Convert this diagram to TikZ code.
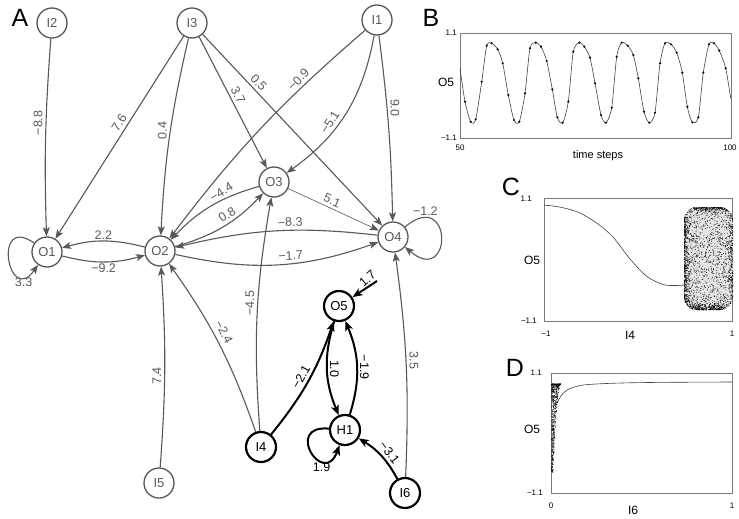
\documentclass[tikz,border=0pt]{standalone}
\usepackage{fontspec}
\setmainfont{Liberation Sans}
\usepackage{tikz}
\usetikzlibrary{arrows.meta, positioning, calc}

\definecolor{netgray}{RGB}{88,88,88}
\definecolor{boxgray}{RGB}{120,120,120}

\begin{document}
\begin{tikzpicture}[x=1pt, y=-1pt]
    % Styles
    \tikzstyle{neuron} = [circle, draw=netgray, line width=1.3pt, minimum size=30pt, inner sep=0pt, text=netgray, font=\fontsize{13}{13}\selectfont]
    \tikzstyle{active} = [neuron, draw=black, line width=2.2pt, text=black]
    \tikzstyle{link} = [draw=netgray, line width=1.1pt, -{Stealth[length=9pt, width=7pt, inset=2pt]}]
    \tikzstyle{strong} = [draw=black, line width=2pt, -{Stealth[length=10pt, width=8pt, inset=2.5pt]}]
    \tikzstyle{wlabel} = [text=netgray, font=\fontsize{12.5}{12.5}\selectfont, inner sep=3pt]
    \tikzstyle{blabel} = [wlabel, text=black]
    \tikzstyle{letter} = [font=\fontsize{25}{25}\selectfont]
    \tikzstyle{frame} = [draw=boxgray, line width=0.8pt]
    \tikzstyle{trace} = [black!75, line width=0.6pt]
    \tikzstyle{ticklbl} = [font=\fontsize{8}{8}\selectfont, inner sep=1pt]
    \tikzstyle{axislbl} = [font=\fontsize{12}{12}\selectfont]

    \useasboundingbox (0,0) rectangle (739,519);

    % Panel A: network
    \node[letter] (labA) at (20,18) {A};

    % Inputs
    \node[neuron] (i2) at (52,23) {I2};
    \node[neuron] (i3) at (192,23) {I3};
    \node[neuron] (i1) at (377,20) {I1};
    \node[neuron] (i5) at (159,483) {I5};
    \node[active] (i4) at (261,447) {I4};
    \node[active] (i6) at (405,493) {I6};

    % Outputs
    \node[neuron] (o1) at (47,252) {O1};
    \node[neuron] (o2) at (160,251) {O2};
    \node[neuron] (o3) at (274,182) {O3};
    \node[neuron] (o4) at (393,237) {O4};
    \node[active] (o5) at (339,306) {O5};

    % Hidden
    \node[active] (h1) at (345,430) {H1};
    \coordinate (bias) at (377,281);

    % Gray connections
    \draw[link] (i2) to[bend right=3] node[wlabel, pos=0.42, rotate=90, anchor=south] {−8.8} (o1);
    \draw[link] (i3) -- node[wlabel, pos=0.45, rotate=57.7, anchor=south] {7.6} (o1);
    \draw[link] (i3) to[bend right=5] node[wlabel, pos=0.47, rotate=90, anchor=south] {0.4} (o2);
    \draw[link] (i3) -- node[wlabel, pos=0.47, rotate=-62.7, anchor=south] {3.7} (o3);
    \draw[link] (i3) -- node[wlabel, pos=0.28, rotate=-46.6, anchor=south] {0.5} (o4);
    \draw[link] (i1) to[bend right=6] node[wlabel, pos=0.27, rotate=46.8, anchor=south] {−0.9} (o2);
    \draw[link] (i1) to[bend left=22] node[wlabel, pos=0.6, rotate=57.5, anchor=south] {−5.1} (o3);
    \draw[link] (i1) to[bend left=3] node[wlabel, pos=0.38, rotate=-90, anchor=south] {9.0} (o4);
    \draw[link] (o3) to[bend right=15] node[wlabel, pos=0.33, rotate=31.8, anchor=south] {−4.4} (o2);
    \draw[link] (o2) to[bend right=15] node[wlabel, pos=0.6, rotate=31.8, anchor=south] {0.8} (o3);
    \draw[link] (o4) to[bend right=10] node[wlabel, pos=0.42, rotate=3.4, anchor=south] {−8.3} (o2);
    \draw[link] (o2) to[bend right=16] node[wlabel, pos=0.57, rotate=3.4, anchor=south] {−1.7} (o4);
    \draw[link, line width=0.6pt] (o3) -- node[wlabel, pos=0.45, rotate=-24.8, anchor=south] {5.1} (o4);
    \draw[link] (o4) to[out=40, in=-40, looseness=8] node[wlabel, pos=0.17, above, inner sep=1pt] {−1.2} (o4);
    \draw[link] (o1) to[out=145, in=-125, looseness=6] node[wlabel, pos=0.82, below, inner sep=1pt] {3.3} (o1);
    \draw[link] (o2) to[bend right=15] node[wlabel, pos=0.5, anchor=south, inner sep=1.5pt] {2.2} (o1);
    \draw[link] (o1) to[bend right=15] node[wlabel, pos=0.5, anchor=north, inner sep=1.5pt] {−9.2} (o2);
    \draw[link] (i5) to[bend right=4] node[wlabel, pos=0.45, rotate=90, anchor=south] {7.4} (o2);
    \draw[link] (i4) to[bend right=8] node[wlabel, pos=0.55, rotate=-62.7, anchor=south, inner sep=5pt] {−2.4} (o2);
    \draw[link] (i4) to[bend left=7] node[wlabel, pos=0.55, rotate=90, anchor=south] {−4.5} (o3);
    \draw[link] (i6) to[bend right=5] node[wlabel, pos=0.52, rotate=-90, anchor=south] {3.5} (o4);

    % Black connections
    \draw[strong] (i4) to[bend right=10] node[blabel, pos=0.5, rotate=61, anchor=south] {−2.1} (o5);
    \draw[strong] (o5) to[bend right=20] node[blabel, pos=0.5, rotate=-90, anchor=south, inner sep=2pt] {1.0} (h1);
    \draw[strong] (h1) to[bend right=20] node[blabel, pos=0.5, rotate=-90, anchor=south, inner sep=2pt] {−1.9} (o5);
    \draw[strong] (h1) to[out=175, in=-110, looseness=6] node[blabel, pos=0.7, below, inner sep=1.5pt] {1.9} (h1);
    \draw[strong] (i6) to[bend right=15] node[blabel, pos=0.45, rotate=-52, anchor=south] {−3.1} (h1);
    \draw[strong] (bias) -- node[blabel, pos=0.2, rotate=40, anchor=south, inner sep=2pt] {1.7} (o5);

    % Panel B: time series
    \node[letter] (labB) at (431,18) {B};
    \draw[frame] (460,33) rectangle (731,138);
    \draw[trace] plot[smooth, tension=0.45] coordinates {(460,68.3) (465,101.7) (470.7,121.7) (475.7,119.3)
        (481.7,81.7) (486.7,45.7) (491.7,43.3) (497.7,49.3) (502.7,63.3) (508.3,95) (514,120) (519.3,121.7)
        (525,93.3) (530,48.3) (535.7,42.7) (541,46.7) (546.7,61) (552.3,89.3) (557.3,117.3) (562.7,122.7)
        (568.3,101.7) (573.3,51.7) (579.3,42.7) (584.3,46.7) (590,57.7) (595,83.3) (601,115) (606,122.7)
        (611.7,107.7) (616.7,56.7) (621.7,42.7) (627.7,45.7) (633.3,55) (638.3,78.3) (644,111.7) (649.3,122.7)
        (655,112.7) (660,63.3) (665,43.3) (671,44.3) (676.7,52.7) (682.3,72.7) (687.3,106.7) (692.3,122.3)
        (698.3,117.3) (703.3,72.7) (709,44.3) (714,43.3) (719.3,50.7) (725.7,68.3) (730.7,98.3)};
    \foreach \ptx/\pty in {465/101.7, 470.7/121.7, 475.7/119.3, 481.7/81.7, 486.7/45.7, 491.7/43.3,
        497.7/49.3, 502.7/63.3, 508.3/95, 514/120, 519.3/121.7, 525/93.3, 530/48.3, 535.7/42.7,
        541/46.7, 546.7/61, 552.3/89.3, 557.3/117.3, 562.7/122.7, 568.3/101.7, 573.3/51.7, 579.3/42.7,
        584.3/46.7, 590/57.7, 595/83.3, 601/115, 606/122.7, 611.7/107.7, 616.7/56.7, 621.7/42.7,
        627.7/45.7, 633.3/55, 638.3/78.3, 644/111.7, 649.3/122.7, 655/112.7, 660/63.3, 665/43.3,
        671/44.3, 676.7/52.7, 682.3/72.7, 687.3/106.7, 692.3/122.3, 698.3/117.3, 703.3/72.7,
        709/44.3, 714/43.3, 719.3/50.7, 725.7/68.3}
        \fill (\ptx,\pty) circle (1.2pt);
    \node[ticklbl, anchor=east] (b_top) at (458,33) {1.1};
    \node[ticklbl, anchor=east] (b_bot) at (458,138) {−1.1};
    \node[axislbl] (b_y) at (446,82) {O5};
    \node[ticklbl] (b_left) at (460,148) {50};
    \node[ticklbl] (b_right) at (730,148) {100};
    \node[font=\fontsize{11}{11}\selectfont] (b_x) at (598,156) {time steps};

    % Panel C: sweep of I4
    \node[letter] (labC) at (511,187) {C};
    \draw[frame] (544,198) rectangle (732,321);
    \draw[trace] plot[smooth, tension=0.5] coordinates {(544,205) (562,207.5) (580,213) (598,224)
        (613,237) (630,259) (647,276.5) (663,284.5) (675,285.5) (686,285)};
    \begin{scope}
        \clip[rounded corners=13pt] (684,207) rectangle (733,310);
        \fill[black!10] (684,207) rectangle (733,310);
        \pgfmathsetseed{17}
        \foreach \k in {1,...,1300} {
            \pgfmathsetmacro{\ptx}{684+49*rnd}
            \pgfmathsetmacro{\pty}{207+103*rnd}
            \fill (\ptx,\pty) circle (0.42pt);
        }
        \foreach \k in {1,...,550} {
            \pgfmathsetmacro{\ptx}{684+8*rnd*rnd}
            \pgfmathsetmacro{\pty}{207+103*rnd}
            \fill (\ptx,\pty) circle (0.45pt);
        }
        \foreach \k in {1,...,320} {
            \pgfmathsetmacro{\ptx}{684+49*rnd}
            \pgfmathsetmacro{\pty}{207+7*rnd*rnd}
            \fill (\ptx,\pty) circle (0.45pt);
        }
        \foreach \k in {1,...,380} {
            \pgfmathsetmacro{\ptx}{684+49*rnd}
            \pgfmathsetmacro{\pty}{310-8*rnd*rnd}
            \fill (\ptx,\pty) circle (0.45pt);
        }
        \foreach \k in {1,...,250} {
            \pgfmathsetmacro{\ptx}{733-6*rnd*rnd}
            \pgfmathsetmacro{\pty}{207+103*rnd}
            \fill (\ptx,\pty) circle (0.45pt);
        }
    \end{scope}
    \node[ticklbl, anchor=east] (c_top) at (533,199) {1.1};
    \node[ticklbl, anchor=east] (c_bot) at (538,321) {−1.1};
    \node[axislbl] (c_y) at (532,260) {O5};
    \node[ticklbl] (c_left) at (546,334) {−1};
    \node[axislbl] (c_x) at (630,335) {I4};
    \node[ticklbl] (c_right) at (732,334) {1};

    % Panel D: sweep of I6
    \node[letter] (labD) at (515,368) {D};
    \draw[frame] (551,373) rectangle (732,493);
    \draw[trace] plot[smooth, tension=0.5] coordinates {(557,403) (561,396) (567,390) (580,385.5)
        (600,383.8) (630,382.8) (670,382.3) (732,382)};
    \begin{scope}
        \clip (551,373) rectangle (732,493);
        \pgfmathsetseed{5}
        \foreach \k in {1,...,650} {
            \pgfmathsetmacro{\tpos}{rnd}
            \pgfmathsetmacro{\pty}{384+89*\tpos*\tpos}
            \pgfmathsetmacro{\ptx}{551.5+(9.5-8*\tpos)*rnd}
            \fill (\ptx,\pty) circle (0.4pt);
        }
    \end{scope}
    \node[ticklbl, anchor=east] (d_top) at (543,373) {1.1};
    \node[ticklbl, anchor=east] (d_bot) at (544,493) {−1.1};
    \node[axislbl] (d_y) at (532,429) {O5};
    \node[ticklbl] (d_left) at (551,506) {0};
    \node[axislbl] (d_x) at (633,510) {I6};
    \node[ticklbl] (d_right) at (732,506) {1};
\end{tikzpicture}
\end{document}
